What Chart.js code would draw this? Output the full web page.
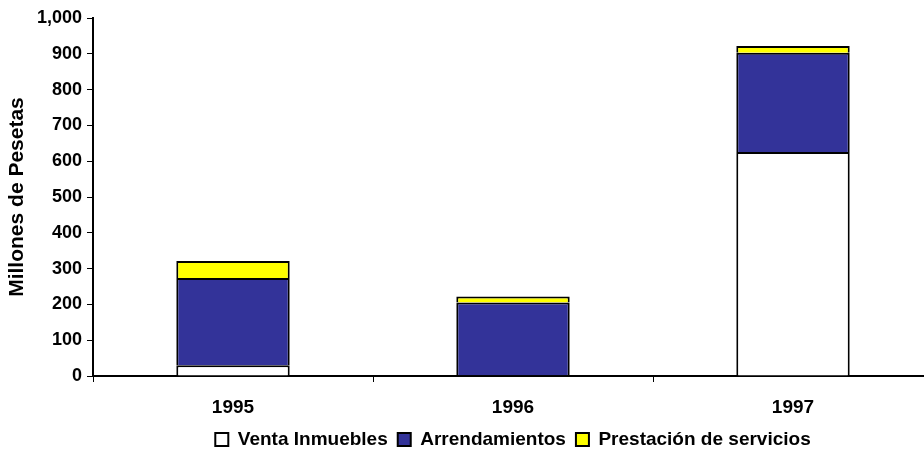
<!DOCTYPE html>
<html>
<head>
<meta charset="utf-8">
<script src="https://cdn.jsdelivr.net/npm/chart.js@4/dist/chart.umd.min.js"></script>
<style>
  html, body { margin: 0; padding: 0; background: #fff; overflow: hidden; }
  #wrap { width: 940px; height: 462px; }
</style>
</head>
<body>
<div id="wrap"><canvas id="c" width="940" height="462"></canvas></div>
<script>
/* Ingresos por año: venta, arrendamientos y servicios (millones de pesetas) */
const years = ['1995', '1996', '1997'];
const venta = [30, 2, 626];
const arrend = [244, 203, 277];
const servicios = [47, 17, 19];

const FONT = '"Liberation Sans", Arial, sans-serif';

new Chart(document.getElementById('c'), {
  type: 'bar',
  data: {
    labels: years,
    datasets: [
      { label: 'Venta Inmuebles', data: venta, backgroundColor: '#ffffff', borderColor: '#000', borderWidth: 2 },
      { label: 'Arrendamientos', data: arrend, backgroundColor: '#333399', borderColor: '#000', borderWidth: 2 },
      { label: 'Prestación de servicios', data: servicios, backgroundColor: '#ffff00', borderColor: '#000', borderWidth: 2 }
    ]
  },
  options: {
    responsive: false,
    animation: false,
    categoryPercentage: 1,
    barPercentage: 0.405,
    layout: { padding: { top: 18, right: 7, left: 0, bottom: 3 } },
    plugins: {
      legend: {
        position: 'bottom', fullSize: false,
        labels: { color: '#000', font: { family: FONT, size: 19, weight: 'bold' }, boxWidth: 13, boxHeight: 13, padding: 10 }
      },
      tooltip: { enabled: false }
    },
    scales: {
      x: {
        stacked: true,
        afterFit: s => { s.height = 44; },
        grid: { offset: true, drawOnChartArea: false, color: '#000', tickLength: 6, tickWidth: 1 },
        border: { color: '#000', width: 2 },
        ticks: { color: '#000', font: { family: FONT, size: 19, weight: 'bold' }, padding: 14 }
      },
      y: {
        stacked: true, min: 0, max: 1000,
        afterFit: s => { s.width = 93; },
        grid: { drawOnChartArea: false, color: '#000', tickLength: 6 },
        border: { color: '#000', width: 2 },
        ticks: { stepSize: 100, color: '#000', padding: 5, font: { family: FONT, size: 18, weight: 'bold' },
          callback: v => v.toLocaleString('en-US') },
        title: { display: true, text: 'Millones de Pesetas', color: '#000', font: { family: FONT, size: 21, weight: 'bold' }, padding: { top: 5, bottom: 0 } }
      }
    }
  }
});
</script>
</body>
</html>
